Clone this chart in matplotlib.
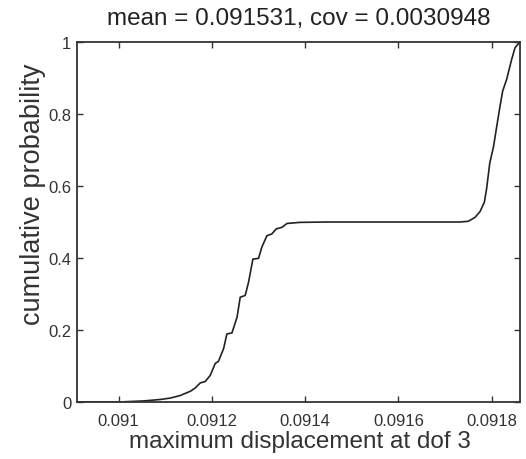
import matplotlib
matplotlib.use("Agg")
import matplotlib.pyplot as plt

matplotlib.rc('font', family='Liberation Sans', size=12)

# cumulative distribution
disp = [0.0909107, 0.091, 0.0910536, 0.0910893, 0.091111, 0.091132, 0.091154,
        0.0911643, 0.091175, 0.0911857, 0.0911964, 0.0912071, 0.091214,
        0.091225, 0.0912321, 0.091243, 0.091254, 0.0912607, 0.0912714,
        0.0912786, 0.0912879, 0.0913, 0.091307, 0.091318, 0.0913286,
        0.091338, 0.09135, 0.091361, 0.0913893, 0.091446, 0.091732,
        0.09175, 0.0917643, 0.091775, 0.0917843, 0.091789, 0.091796,
        0.0918036, 0.091811, 0.091818, 0.0918236, 0.091832, 0.0918429,
        0.09185, 0.091859, 0.0918607]
prob = [0, 0, 0.003, 0.007, 0.011, 0.018, 0.03,
        0.039, 0.053, 0.057, 0.074, 0.107, 0.113,
        0.148, 0.189, 0.192, 0.236, 0.291, 0.296,
        0.333, 0.397, 0.399, 0.43, 0.462, 0.467,
        0.481, 0.485, 0.496, 0.499, 0.5, 0.5,
        0.502, 0.513, 0.529, 0.555, 0.592, 0.665,
        0.707, 0.767, 0.823, 0.864, 0.896, 0.952,
        0.984, 0.998, 1.0]

xticks_v = [0.091, 0.0912, 0.0914, 0.0916, 0.0918]
xticks_l = ["0.091", "0.0912", "0.0914", "0.0916", "0.0918"]
yticks_v = [0, 0.2, 0.4, 0.6, 0.8, 1]
yticks_l = ["0", "0.2", "0.4", "0.6", "0.8", "1"]

fig = plt.figure(figsize=(5.26, 4.6), dpi=100)
ax = fig.add_axes([0.1464, 0.1239, 0.8422, 0.7826])
ax.plot(disp, prob, color='#222222', lw=1.2)
ax.set_xlim(disp[0], disp[-1])
ax.set_ylim(0, 1)
ax.set_xticks(xticks_v)
ax.set_xticklabels(xticks_l)
ax.set_yticks(yticks_v)
ax.set_yticklabels(yticks_l)
ax.tick_params(direction='in', top=True, right=True, length=4, width=1,
               labelsize=12, colors='#333333')
ax.tick_params(axis='x', pad=8)
ax.tick_params(axis='y', pad=4)
for s in ax.spines.values():
    s.set_linewidth(1.3)
    s.set_color('#333333')

fig.text(0.568, 0.959, "mean = 0.091531, cov = 0.0030948", fontsize=17.5,
         ha='center', va='center', color='#222222')
fig.text(0.57, 0.039, "maximum displacement at dof 3", fontsize=17.5,
         ha='center', va='center', color='#333333')
fig.text(0.062, 0.578, "cumulative probability", fontsize=19.5, rotation=90,
         ha='center', va='center', color='#333333')

fig.savefig("out.png", dpi=100)
